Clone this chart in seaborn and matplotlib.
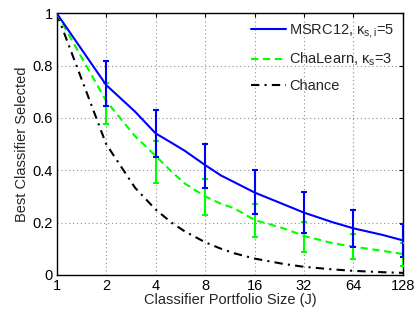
import numpy as np
import pandas as pd
import matplotlib
matplotlib.use("Agg")
import matplotlib.pyplot as plt
import seaborn as sns

# ---- data ----
J_line = [1, 2, 3, 4, 5, 6, 8, 10, 12, 16, 24, 32, 48, 64, 96, 128]
msrc_line = [1.0, 0.726, 0.624, 0.541, 0.505, 0.475, 0.42, 0.38, 0.355, 0.315,
             0.27, 0.238, 0.201, 0.178, 0.153, 0.132]
chalearn_line = [1.0, 0.665, 0.53, 0.455, 0.395, 0.35, 0.30, 0.272, 0.255, 0.21,
                 0.178, 0.149, 0.121, 0.108, 0.092, 0.08]
chance_line = [1.0, 0.5, 0.333, 0.25, 0.2, 0.167, 0.125, 0.1, 0.083, 0.0625,
               0.042, 0.031, 0.021, 0.0156, 0.0104, 0.0078]

J_err = [2, 4, 8, 16, 32, 64, 128]
msrc_lo = [0.646, 0.45, 0.332, 0.233, 0.162, 0.108, 0.07]
msrc_hi = [0.818, 0.63, 0.50, 0.40, 0.317, 0.25, 0.196]
chalearn_lo = [0.577, 0.35, 0.229, 0.144, 0.087, 0.06, 0.036]
chalearn_hi = [0.735, 0.513, 0.367, 0.271, 0.201, 0.157, 0.121]

x_ticks = [1, 2, 4, 8, 16, 32, 64, 128]
y_ticks = [0, 0.2, 0.4, 0.6, 0.8, 1]
y_ticklabels = ["0", "0.2", "0.4", "0.6", "0.8", "1"]

labels = ["MSRC12, $\\kappa_{s,i}$=5", "ChaLearn, $\\kappa_s$=3", "Chance"]

# ---- style ----
sns.set_style("white")
plt.rcParams["font.family"] = ["Liberation Sans", "DejaVu Sans"]
plt.rcParams["mathtext.fontset"] = "custom"
plt.rcParams["mathtext.rm"] = "Liberation Sans"
plt.rcParams["mathtext.it"] = "Liberation Sans"

fig = plt.figure(figsize=(4.18, 3.16), dpi=100)
ax = fig.add_axes([0.1356, 0.13, 0.8284, 0.828])

df = pd.DataFrame({"J": J_line, "msrc": msrc_line,
                   "cha": chalearn_line, "chance": chance_line})

sns.lineplot(data=df, x="J", y="chance", ax=ax, color="black",
             dashes=(4, 2.5, 1, 2.5), linewidth=1.5, label=labels[2], zorder=2)
sns.lineplot(data=df, x="J", y="cha", ax=ax, color=(0, 1, 0),
             dashes=(3.5, 2.2), linewidth=1.5, label=labels[1], zorder=3)
sns.lineplot(data=df, x="J", y="msrc", ax=ax, color=(0, 0, 1),
             linestyle="-", linewidth=1.5, label=labels[0], zorder=5)

lo = np.array(chalearn_lo); hi = np.array(chalearn_hi)
ax.errorbar(J_err, (lo + hi) / 2, yerr=(hi - lo) / 2, fmt="none",
            ecolor=(0, 1, 0), elinewidth=1.5, capsize=2.5, capthick=1.5, zorder=4)
lo = np.array(msrc_lo); hi = np.array(msrc_hi)
ax.errorbar(J_err, (lo + hi) / 2, yerr=(hi - lo) / 2, fmt="none",
            ecolor=(0, 0, 1), elinewidth=1.5, capsize=2.5, capthick=1.5, zorder=4)

ax.set_xscale("log", base=2)
ax.set_xlim(1, 128)
ax.set_ylim(0, 1)
ax.set_xticks(x_ticks)
ax.set_xticklabels([str(v) for v in x_ticks])
ax.xaxis.set_minor_locator(matplotlib.ticker.NullLocator())
ax.set_yticks(y_ticks)
ax.set_yticklabels(y_ticklabels)

ax.grid(True, linestyle=(0, (1, 2.5)), color="#909090", linewidth=0.8)
ax.tick_params(direction="in", length=3, width=0.8, labelsize=10.5,
               top=True, right=True, pad=3, colors="black")
for s in ax.spines.values():
    s.set_color("black")
    s.set_linewidth(1.0)

ax.set_xlabel("Classifier Portfolio Size (J)", fontsize=10.5, labelpad=0)
ax.set_ylabel("Best Classifier Selected", fontsize=10.5, labelpad=2)

h, l = ax.get_legend_handles_labels()
order = [l.index(t) for t in labels]
ax.legend([h[i] for i in order], [l[i] for i in order], loc="upper right",
          frameon=False, fontsize=10.5, handlelength=2.4, handletextpad=0.2,
          labelspacing=0.75, borderaxespad=0.2)

fig.savefig("out.png", dpi=100)
